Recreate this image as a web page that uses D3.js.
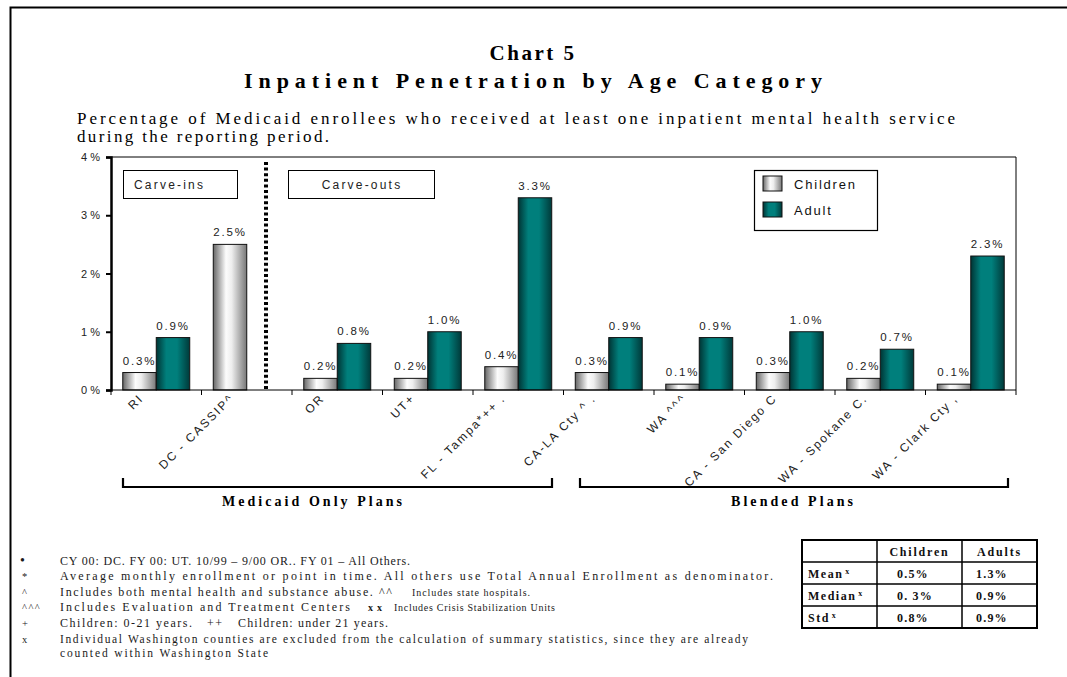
<!DOCTYPE html>
<html>
<head>
<meta charset="utf-8">
<script src="https://cdn.jsdelivr.net/npm/d3@7"></script>
<style>
  body { margin:0; background:#fff; }
  svg { display:block; }
  .sans { font-family:"Liberation Sans", Arial, sans-serif; }
  .serif { font-family:"Liberation Serif", "Times New Roman", serif; }
</style>
</head>
<body>
<svg id="board" width="1067" height="677"></svg>
<script>
// data
var categories = ["RI", "DC  - CASSIP^", "OR", "UT+", "FL - Tampa*++ .", "CA-LA Cty ^ .",
                  "WA ^^^", "CA - San Diego C", "WA - Spokane C.", "WA - Clark Cty ,"];
var children = [0.3, 2.5, 0.2, 0.2, 0.4, 0.3, 0.1, 0.3, 0.2, 0.1];
var adult    = [0.9, null, 0.8, 1.0, 3.3, 0.9, 0.9, 1.0, 0.7, 2.3];
var series = ["Children", "Adult"];
var yTicks = [0, 1, 2, 3, 4];

var statRows = ["Mean", "Median", "Std"];
var statChildren = ["0.5%", "0. 3%", "0.8%"];
var statAdults = ["1.3%", "0.9%", "0.9%"];

var footSymbols = ["\u2022", "*", "^", "^^^", "+", "x", ""];

var board = d3.select("#board");

// outer frame
board.append("path")
  .attr("d", "M10.5,690 L10.5,7.5 L1080,7.5")
  .attr("fill", "none").attr("stroke", "black").attr("stroke-width", 2);

// gradients
var defs = board.append("defs");
function grad(id, stops)
{
  var g = defs.append("linearGradient").attr("id", id)
    .attr("x1", "0%").attr("x2", "100%").attr("y1", "0%").attr("y2", "0%");
  stops.forEach(function(s){
    g.append("stop").attr("offset", s[0]).attr("stop-color", s[1]);
  });
}
grad("gChild", [["0%", "#666"], ["38%", "#fcfcfc"], ["55%", "#eeeeee"], ["100%", "#777"]]);
grad("gAdult", [["0%", "#003434"], ["30%", "#007f7c"], ["62%", "#007f7c"], ["100%", "#003a3a"]]);
var fills = {"Children": "url(#gChild)", "Adult": "url(#gAdult)"};

// titles
board.append("text").attr("class", "serif")
  .attr("x", 533).attr("y", 60).attr("text-anchor", "middle")
  .attr("font-size", 21).attr("font-weight", "bold").attr("letter-spacing", 2.5)
  .text("Chart 5");
board.append("text").attr("class", "serif")
  .attr("x", 533).attr("y", 88).attr("text-anchor", "middle")
  .attr("font-size", 22).attr("font-weight", "bold")
  .attr("textLength", 578).attr("lengthAdjust", "spacing")
  .text("Inpatient Penetration by Age Category");
board.append("text").attr("class", "serif")
  .attr("x", 77).attr("y", 124).attr("font-size", 17)
  .attr("textLength", 878).attr("lengthAdjust", "spacing")
  .text("Percentage of Medicaid enrollees who received at least one inpatient mental health service");
board.append("text").attr("class", "serif")
  .attr("x", 77).attr("y", 142).attr("font-size", 17)
  .attr("textLength", 252).attr("lengthAdjust", "spacing")
  .text("during the reporting period.");

// scales
var x = d3.scaleBand().domain(categories).range([111, 1016]);
var bw = x.bandwidth();
var xSub = d3.scaleBand().domain(series).range([bw * 0.13, bw * 0.87]);
var y = d3.scaleLinear().domain([0, 4]).range([390, 157]);

// plot frame (top + right)
board.append("path")
  .attr("d", "M111," + y(4) + " L1016," + y(4) + " L1016," + y(0))
  .attr("fill", "none").attr("stroke", "black").attr("stroke-width", 1);

// bars
var rows = categories.map(function(c, i){
  return {cat: c, vals: [{s: "Children", v: children[i]}, {s: "Adult", v: adult[i]}]};
});
var groups = board.selectAll("g.grp").data(rows).enter().append("g")
  .attr("class", "grp")
  .attr("transform", function(d){ return "translate(" + x(d.cat) + ",0)"; });
var bars = groups.selectAll("g.bar").data(function(d){
    return d.vals.filter(function(e){ return e.v != null; });
  }).enter().append("g").attr("class", "bar");
bars.append("rect")
  .attr("x", function(d){ return xSub(d.s); })
  .attr("y", function(d){ return y(d.v); })
  .attr("width", xSub.bandwidth())
  .attr("height", function(d){ return y(0) - y(d.v); })
  .attr("fill", function(d){ return fills[d.s]; })
  .attr("stroke", "#111").attr("stroke-width", 1);
bars.append("text").attr("class", "sans")
  .attr("x", function(d){ return xSub(d.s) + xSub.bandwidth() / 2; })
  .attr("y", function(d){ return y(d.v) - 8; })
  .attr("text-anchor", "middle").attr("font-size", 11.5).attr("letter-spacing", 1.8)
  .attr("fill", "#222")
  .text(function(d){ return d.v.toFixed(1) + "%"; });

// y axis
var yAxis = board.append("g").attr("transform", "translate(111,0)")
  .call(d3.axisLeft(y).tickValues(yTicks).tickSize(5).tickFormat(function(d){ return d + " %"; }));
yAxis.select(".domain").attr("stroke-width", 2.5);
yAxis.selectAll("line").attr("stroke-width", 2);
yAxis.selectAll("text").attr("class", "sans").attr("font-size", 11).attr("fill", "#222").attr("x", -11);

// x axis baseline and ticks between groups
var xAxis = board.append("g").attr("transform", "translate(0," + y(0) + ")");
xAxis.append("line").attr("x1", 111).attr("x2", 1016).attr("stroke", "black");
xAxis.selectAll("line.tk").data(categories.concat(["end"])).enter().append("line")
  .attr("x1", function(d, i){ return i < categories.length ? x(d) : x.range()[1]; })
  .attr("x2", function(d, i){ return i < categories.length ? x(d) : x.range()[1]; })
  .attr("y1", 0).attr("y2", 5).attr("stroke", "black");
xAxis.selectAll("text").data(categories).enter().append("text").attr("class", "sans")
  .attr("transform", function(d){
    return "translate(" + (x(d) + bw / 2 - 12) + ",9) rotate(-45)";
  })
  .attr("text-anchor", "end").attr("font-size", 12).attr("letter-spacing", 1.9)
  .attr("fill", "#222")
  .text(function(d){ return d; });

// dotted separator
board.append("line")
  .attr("x1", 266).attr("x2", 266).attr("y1", 162).attr("y2", y(0))
  .attr("stroke", "black").attr("stroke-width", 4).attr("stroke-dasharray", "3,2.6");

// carve boxes
function labelBox(x0, x1, txt, anchor, tx)
{
  board.append("rect").attr("x", x0 + 0.5).attr("y", 170.5).attr("width", x1 - x0).attr("height", 28)
    .attr("fill", "white").attr("stroke", "black");
  board.append("text").attr("class", "sans")
    .attr("x", tx).attr("y", 189).attr("text-anchor", anchor)
    .attr("font-size", 12).attr("letter-spacing", 2.2).attr("fill", "#222")
    .text(txt);
}
labelBox(123, 237, "Carve-ins", "start", 134);
labelBox(288, 434, "Carve-outs", "middle", 362);

// legend
var lg = board.append("g").attr("transform", "translate(754,170)");
lg.append("rect").attr("x", 0.5).attr("y", 0.5).attr("width", 123).attr("height", 60)
  .attr("fill", "white").attr("stroke", "black").attr("stroke-width", 1.2);
var li = lg.selectAll("g.li").data(series).enter().append("g")
  .attr("transform", function(d, i){ return "translate(9," + (6 + i * 26) + ")"; });
li.append("rect").attr("width", 19).attr("height", 15)
  .attr("fill", function(d){ return fills[d]; }).attr("stroke", "#111");
li.append("text").attr("class", "sans").attr("x", 31).attr("y", 13)
  .attr("font-size", 13).attr("letter-spacing", 1.8).attr("fill", "#111")
  .text(function(d){ return d; });

// brackets
function bracket(x0, x1, label, lx, lw)
{
  board.append("path")
    .attr("d", "M" + x0 + ",478 L" + x0 + ",487 L" + x1 + ",487 L" + x1 + ",478")
    .attr("fill", "none").attr("stroke", "black").attr("stroke-width", 2.2);
  board.append("text").attr("class", "serif")
    .attr("x", lx).attr("y", 506)
    .attr("font-size", 14).attr("font-weight", "bold")
    .attr("textLength", lw).attr("lengthAdjust", "spacing")
    .text(label);
}
bracket(123, 552, "Medicaid Only Plans", 222, 180);
bracket(580, 1008, "Blended Plans", 731, 122);

// footnotes
var fy = [565, 580, 596, 611, 627, 643, 657];
var fn = board.append("g").attr("class", "serif").attr("font-size", 12).attr("fill", "#1a1a1a");
fn.selectAll("text.sym").data(footSymbols).enter().append("text")
  .attr("x", function(d){ return d == "\u2022" ? 20 : 22; })
  .attr("y", function(d, i){ return fy[i]; })
  .attr("font-size", function(d){ return d == "\u2022" ? 14 : 10.5; })
  .attr("letter-spacing", 1.5)
  .text(function(d){ return d; });

// each part: text, start x, end x
function foot(i, parts)
{
  parts.forEach(function(p){
    var t = fn.append("text").attr("x", p.x0).attr("y", fy[i])
      .attr("textLength", p.x1 - p.x0).attr("lengthAdjust", "spacing")
      .text(p.t);
    if(p.size) t.attr("font-size", p.size);
    if(p.bold) t.attr("font-weight", "bold");
  });
}
foot(0, [{t: "CY 00: DC. FY 00: UT. 10/99 \u2013 9/00 OR.. FY 01 \u2013 All Others.", x0: 60, x1: 410}]);
foot(1, [{t: "Average monthly enrollment or point in time. All others use Total Annual Enrollment as denominator.", x0: 60, x1: 773}]);
foot(2, [{t: "Includes both mental health and substance abuse. ^^", x0: 60, x1: 392},
         {t: "Includes state hospitals.", x0: 412, x1: 530, size: 10}]);
foot(3, [{t: "Includes Evaluation and Treatment Centers", x0: 60, x1: 350},
         {t: "xx", x0: 368, x1: 382, size: 10, bold: true},
         {t: "Includes Crisis Stabilization Units", x0: 394, x1: 555, size: 10}]);
foot(4, [{t: "Children: 0-21 years.", x0: 60, x1: 192},
         {t: "++", x0: 207, x1: 222},
         {t: "Children: under 21 years.", x0: 238, x1: 388}]);
foot(5, [{t: "Individual Washington counties are excluded from the calculation of summary statistics, since they are already", x0: 60, x1: 748, size: 11.5}]);
foot(6, [{t: "counted within Washington State", x0: 60, x1: 268, size: 11.5}]);

// stats table
var tx0 = 802, colX = [802, 877, 962, 1037], rowY = [540, 562, 584, 606, 628];
var tb = board.append("g").attr("class", "serif").attr("font-size", 12).attr("font-weight", "bold").attr("fill", "#111");
tb.append("rect").attr("x", tx0).attr("y", rowY[0]).attr("width", colX[3] - tx0).attr("height", rowY[4] - rowY[0])
  .attr("fill", "white").attr("stroke", "black").attr("stroke-width", 2);
tb.selectAll("line.h").data(rowY.slice(1, 4)).enter().append("line")
  .attr("x1", tx0).attr("x2", colX[3]).attr("y1", function(d){ return d; }).attr("y2", function(d){ return d; })
  .attr("stroke", "black").attr("stroke-width", 1.5);
tb.selectAll("line.v").data(colX.slice(1, 3)).enter().append("line")
  .attr("y1", rowY[0]).attr("y2", rowY[4]).attr("x1", function(d){ return d; }).attr("x2", function(d){ return d; })
  .attr("stroke", "black").attr("stroke-width", 1.5);
tb.append("text").attr("x", (colX[1] + colX[2]) / 2).attr("y", rowY[0] + 15.5).attr("text-anchor", "middle")
  .attr("letter-spacing", 1.8).text("Children");
tb.append("text").attr("x", (colX[2] + colX[3]) / 2).attr("y", rowY[0] + 15.5).attr("text-anchor", "middle")
  .attr("letter-spacing", 1.8).text("Adults");
statRows.forEach(function(r, i){
  var t = tb.append("text").attr("x", tx0 + 6).attr("y", rowY[i + 1] + 15.5).attr("letter-spacing", 1.5);
  t.append("tspan").text(r);
  t.append("tspan").attr("font-size", 8).attr("dy", -4).attr("dx", 2).text("x");
  tb.append("text").attr("x", colX[1] + 20).attr("y", rowY[i + 1] + 15.5).attr("letter-spacing", 1.2).text(statChildren[i]);
  tb.append("text").attr("x", colX[2] + 14).attr("y", rowY[i + 1] + 15.5).attr("letter-spacing", 1.2).text(statAdults[i]);
});
</script>
</body>
</html>
